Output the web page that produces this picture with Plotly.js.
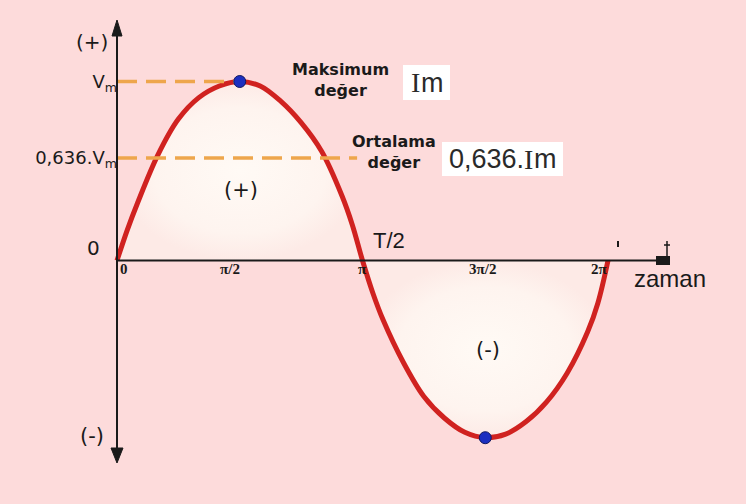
<!DOCTYPE html>
<html><head><meta charset="utf-8">
<script src="https://cdn.plot.ly/plotly-3.0.1.min.js"></script>
<style>html,body{margin:0;padding:0;background:#fddbdb;}#chart{width:746px;height:504px;}</style>
</head><body><div id="chart"></div>
<script>
// phase of the wave, in multiples of π
const phase = [0, 0.0417, 0.0833, 0.1667, 0.25, 0.3333, 0.4167, 0.5, 0.5833, 0.6667, 0.75, 0.8333, 0.9167, 0.9583, 1,
               1.0417, 1.0833, 1.1667, 1.25, 1.3333, 1.4167, 1.5, 1.5833, 1.6667, 1.75, 1.8333, 1.9167, 1.9583, 2];
// instantaneous value, in units of Vm
const voltage = [0, 0.17, 0.32, 0.59, 0.79, 0.91, 0.975, 1, 0.975, 0.89, 0.77, 0.61, 0.36, 0.20, 0,
                 -0.18, -0.33, -0.57, -0.76, -0.88, -0.96, -0.99, -0.97, -0.90, -0.79, -0.63, -0.40, -0.24, 0];
// marked extremes
const peakPhase = [0.5, 1.5];
const peakValue = [1, -0.99];
// reference levels (dashed lines) and their labels
const levelLabels = ['V<sub>m</sub>', '0,636.V<sub>m</sub>'];
const levelValues = [1, 0.573];
const levelEndPhase = [0.48, 0.978];
// x tick labels
const tickPhase = [0, 0.5, 1, 1.5, 2];
const tickLabels = ['0', 'π/2', 'π', '3π/2', '2π'];

const W = 746, H = 504;
const ORX = 117, PI_PX = 245.5, ORY = 260.5, UNIT_PX = 179;
const xr = [-ORX / PI_PX, (W - ORX) / PI_PX];
const yr = [-(H - ORY) / UNIT_PX, ORY / UNIT_PX];
const dx = px => (px - ORX) / PI_PX;
const dy = py => (ORY - py) / UNIT_PX;
const px = x => x / W, py = y => 1 - y / H;
const TICK_XSHIFT = [7, -10, 0, -3, -9];

const RED = '#d02220', ORANGE = '#eea64c', INK = '#1a1a1a', BG = '#fddbdb';
const n1 = phase.indexOf(1);
const grad = {type: 'radial', colorscale: [[0, '#fffaf5'], [0.7, '#fef4ef'], [1, '#fdeae6']]};

const traces = [
  {x: phase.slice(0, n1 + 1), y: voltage.slice(0, n1 + 1), mode: 'lines', fill: 'tozeroy',
   line: {width: 0, shape: 'spline', color: RED}, fillgradient: grad, hoverinfo: 'skip'},
  {x: phase.slice(n1), y: voltage.slice(n1), mode: 'lines', fill: 'tozeroy',
   line: {width: 0, shape: 'spline', color: RED}, fillgradient: grad, hoverinfo: 'skip'},
  {x: phase, y: voltage, mode: 'lines', line: {color: RED, width: 5, shape: 'spline'}, hoverinfo: 'skip'}
];
levelValues.forEach((v, i) => traces.push({
  x: [0, levelEndPhase[i]], y: [v, v], mode: 'lines',
  line: {color: ORANGE, width: 3.5, dash: '20px,9px'}, hoverinfo: 'skip'
}));
traces.push({x: peakPhase, y: peakValue, mode: 'markers',
  marker: {color: '#1c2fc0', size: 12, line: {color: '#101860', width: 1}}, hoverinfo: 'skip'});

const shapes = [
  {type: 'line', xref: 'x', yref: 'y', x0: 0, x1: 0, y0: dy(30), y1: dy(452), line: {color: INK, width: 2}},
  {type: 'line', xref: 'x', yref: 'y', x0: 0, x1: dx(660), y0: 0, y1: 0, line: {color: INK, width: 2}},
  {type: 'path', xref: 'x', yref: 'y', fillcolor: INK, line: {color: INK, width: 1},
   path: `M${dx(117)},${dy(20)} L${dx(112)},${dy(36)} L${dx(122)},${dy(36)} Z`},
  {type: 'path', xref: 'x', yref: 'y', fillcolor: INK, line: {color: INK, width: 1},
   path: `M${dx(117)},${dy(463)} L${dx(111)},${dy(448)} L${dx(123)},${dy(448)} Z`},
  {type: 'rect', xref: 'x', yref: 'y', x0: dx(656), x1: dx(670), y0: dy(256), y1: dy(265), fillcolor: INK, line: {width: 0}},
  {type: 'line', xref: 'x', yref: 'y', x0: dx(667), x1: dx(667), y0: dy(241), y1: dy(256), line: {color: INK, width: 1.5}},
  {type: 'line', xref: 'x', yref: 'y', x0: dx(664), x1: dx(670), y0: dy(245), y1: dy(245), line: {color: INK, width: 1.5}},
  {type: 'line', xref: 'x', yref: 'y', x0: dx(618), x1: dx(618), y0: dy(241), y1: dy(247), line: {color: INK, width: 2}},
  // white label boxes
  {type: 'rect', xref: 'paper', yref: 'paper', x0: px(403), x1: px(450), y0: py(65), y1: py(100), fillcolor: '#ffffff', line: {width: 0}},
  {type: 'rect', xref: 'paper', yref: 'paper', x0: px(442), x1: px(563), y0: py(142), y1: py(176), fillcolor: '#ffffff', line: {width: 0}}
];

const A = (text, x, y, size, family, extra) => Object.assign({
  text, xref: 'paper', yref: 'paper', x: px(x), y: py(y), xanchor: 'center', yanchor: 'middle',
  showarrow: false, font: {size, family, color: INK}
}, extra || {});
const SANS = 'Liberation Sans, Arial, sans-serif';
const SERIF = 'Liberation Serif, Times New Roman, serif';
const DV = 'DejaVu Sans, sans-serif';
const BOXINK = '#2a2a2a';
const annotations = [
  A('(+)', 92, 42, 20, DV),
  A('0', 93, 248, 20, DV),
  A('(-)', 92, 436, 21, DV),
  A('(+)', 241, 190, 21, DV),
  A('(-)', 488, 350, 21, DV),
  A('T/2', 389, 240, 22, SANS),
  A('zaman', 670, 278, 24, SANS),
  A('<b>Maksimum</b><br><b>değer</b>', 340, 80, 16, DV),
  A('<b>Ortalama</b><br><b>değer</b>', 394, 152, 16, DV),
  // "Im" box text: serif I + sans m
  A('I', 415.5, 83, 28, SERIF, {font: {size: 28, family: SERIF, color: BOXINK}}),
  A('m', 419, 83, 27, SANS, {xanchor: 'left', font: {size: 27, family: SANS, color: BOXINK}}),
  // "0,636.Im" box text
  A('0,636.', 526, 159, 27, SANS, {xanchor: 'right', font: {size: 27, family: SANS, color: BOXINK}}),
  A('I', 528, 159, 28, SERIF, {font: {size: 28, family: SERIF, color: BOXINK}}),
  A('m', 531.5, 159, 27, SANS, {xanchor: 'left', font: {size: 27, family: SANS, color: BOXINK}})
];
// x tick labels, placed on the phase scale
tickPhase.forEach((t, i) => annotations.push({
  text: tickLabels[i], xref: 'x', yref: 'y', x: t, y: 0, xanchor: 'center', yanchor: 'top',
  xshift: TICK_XSHIFT[i], yshift: 1, showarrow: false, borderpad: 0,
  font: {family: SERIF, size: 15, color: INK, weight: 'bold'}
}));

const layout = {
  width: W, height: H, margin: {l: 0, r: 0, t: 0, b: 0},
  paper_bgcolor: BG, plot_bgcolor: BG, showlegend: false,
  xaxis: {range: xr, visible: false, fixedrange: true},
  yaxis: {range: yr, anchor: 'free', position: ORX / W, showgrid: false, zeroline: false, showline: false,
          tickvals: levelValues, ticktext: levelLabels, ticks: '', fixedrange: true, ticklabelstandoff: 0,
          tickfont: {family: DV, size: 18, color: INK}},
  shapes, annotations
};
Plotly.newPlot('chart', traces, layout, {displayModeBar: false, staticPlot: true});
</script></body></html>
